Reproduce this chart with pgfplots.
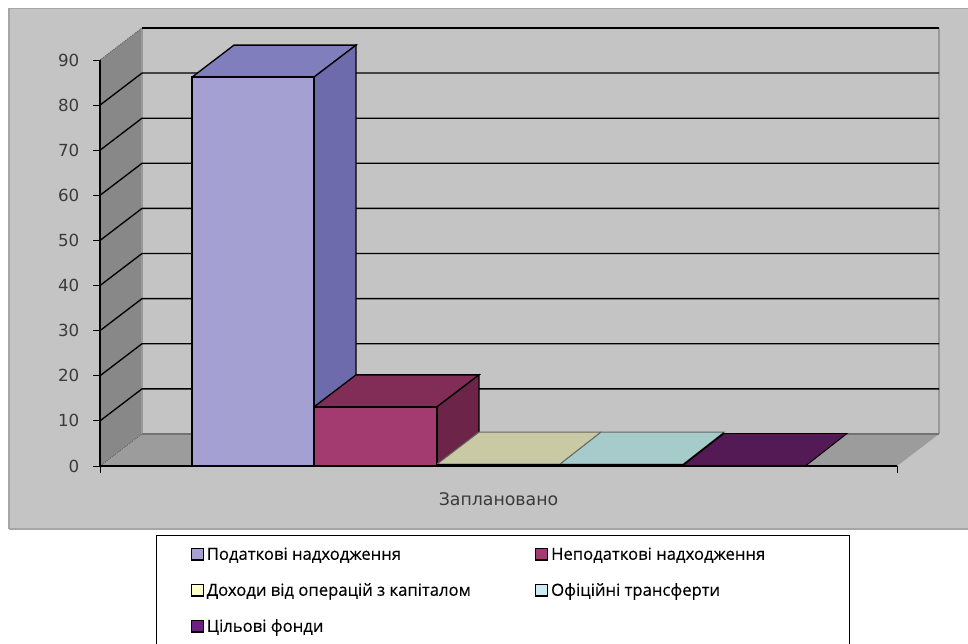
\documentclass[border=0pt]{standalone}
\usepackage{fontspec}
\setmainfont{DejaVu Sans}
\newfontfamily\legendfont[FakeBold=0.25]{Open Sans}
\usepackage{pgfplots}
\pgfplotsset{compat=1.18}
\definecolor{panel}{HTML}{C4C4C4}
\definecolor{wall}{HTML}{888888}
\definecolor{floorc}{HTML}{9C9C9C}
\definecolor{txt}{HTML}{3A3A3A}
\definecolor{aF}{HTML}{A4A0D2}\definecolor{aT}{HTML}{807EBC}\definecolor{aS}{HTML}{6D6BAB}
\definecolor{bF}{HTML}{A33A70}\definecolor{bT}{HTML}{812D57}\definecolor{bS}{HTML}{6C2449}
\definecolor{cT}{HTML}{C9C9A4}\definecolor{dT}{HTML}{A5CCCB}\definecolor{eT}{HTML}{531A55}
\definecolor{cL}{HTML}{FFFFCC}\definecolor{dL}{HTML}{CCECF4}\definecolor{eL}{HTML}{6C2080}
\begin{document}
\begin{tikzpicture}
\path[use as bounding box] (0pt,0pt) rectangle (726pt,482.25pt);
\begin{axis}[
  at={(75pt,132.75pt)}, anchor=origin,
  scale only axis, width=597.75pt, height=304.5pt,
  xmin=100, xmax=897, ymin=0, ymax=90,
  clip=false, axis on top,
  axis x line*=bottom, axis y line*=left,
  axis line style={black, line width=1pt},
  xtick={100,897}, xticklabels={,},
  ytick={0,10,...,90},
  tick style={black, line width=0.7pt},
  tick align=outside, major tick length=5pt,
  /pgf/number format/assume math mode=true,
  yticklabel style={font=\fontsize{12.5}{14}\selectfont, text=txt, xshift=-7pt},
  xlabel={Заплановано},
  xlabel style={at={(axis cs:498.5,-7.4)}, anchor=center, font=\fontsize{13}{15}\selectfont, text=txt},
  legend columns=2, legend cell align=left,
  legend image code/.code={\draw[#1] (0pt,-4pt) rectangle (9pt,4.5pt);},
  legend style={at={(axis cs:156,-15.3)}, anchor=north west, draw=black, line width=0.8pt,
    fill=white, inner xsep=25.5pt, inner ysep=7pt,
    font=\legendfont\fontsize{12.5}{14}\selectfont,
    row sep=12pt,
    /tikz/every even column/.append style={column sep=46pt}},
]
% chart area
\addplot[fill=panel, draw=black!35, line width=1pt, forget plot] coordinates {(9,-14) (975,-14) (975,101.4) (9,101.4) (9,-14)};
% side wall, floor
\addplot[fill=wall, draw=none, forget plot] coordinates {(100,0) (142,7.1) (142,97.1) (100,90) (100,0)};
\addplot[fill=floorc, draw=none, forget plot] coordinates {(100,0) (897,0) (939,7.1) (142,7.1) (100,0)};
% wall edges
\addplot[black!40, line width=1.2pt, forget plot] coordinates {(142,7.1) (142,97.1)};
\addplot[black!40, line width=1.2pt, forget plot] coordinates {(939,7.1) (939,97.1)};
\addplot[black!55, line width=0.9pt, forget plot] coordinates {(142,7.1) (939,7.1)};
\addplot[black!70, line width=0.6pt, densely dotted, forget plot] coordinates {(100,0) (142,7.1)};
\addplot[black!70, line width=0.6pt, densely dotted, forget plot] coordinates {(100,90) (142,97.1)};
% gridlines
\addplot[black, line width=1pt, forget plot] coordinates {(142,97.1) (939,97.1)};
\addplot[black, line width=1pt, forget plot] coordinates {(100,80) (142,87.1) (939,87.1)};
\addplot[black, line width=1pt, forget plot] coordinates {(100,70) (142,77.1) (939,77.1)};
\addplot[black, line width=1pt, forget plot] coordinates {(100,60) (142,67.1) (939,67.1)};
\addplot[black, line width=1pt, forget plot] coordinates {(100,50) (142,57.1) (939,57.1)};
\addplot[black, line width=1pt, forget plot] coordinates {(100,40) (142,47.1) (939,47.1)};
\addplot[black, line width=1pt, forget plot] coordinates {(100,30) (142,37.1) (939,37.1)};
\addplot[black, line width=1pt, forget plot] coordinates {(100,20) (142,27.1) (939,27.1)};
\addplot[black, line width=1pt, forget plot] coordinates {(100,10) (142,17.1) (939,17.1)};
% bar 1: 86.2
\addplot[fill=aT, draw=black, line width=1pt, forget plot] coordinates {(192,86.2) (314,86.2) (356,93.3) (234,93.3) (192,86.2)};
\addplot[fill=aS, draw=black, line width=1pt, forget plot] coordinates {(314,0) (356,7.1) (356,93.3) (314,86.2) (314,0)};
\addplot[fill=aF, draw=black, line width=1pt, forget plot] coordinates {(192,0) (314,0) (314,86.2) (192,86.2) (192,0)};
% bar 2: 13.1
\addplot[fill=bT, draw=black, line width=1pt, forget plot] coordinates {(314,13.1) (437,13.1) (479,20.2) (356,20.2) (314,13.1)};
\addplot[fill=bS, draw=black, line width=1pt, forget plot] coordinates {(437,0) (479,7.1) (479,20.2) (437,13.1) (437,0)};
\addplot[fill=bF, draw=black, line width=1pt, forget plot] coordinates {(314,0) (437,0) (437,13.1) (314,13.1) (314,0)};
% bar 3: 0.4
\addplot[fill=cT, draw=black!60, line width=0.7pt, forget plot] coordinates {(437,0.4) (560,0.4) (601,7.5) (479,7.5) (437,0.4)};
\addplot[black, line width=1.8pt, forget plot] coordinates {(437,0.2) (560,0.2)};
% bar 4: 0.4
\addplot[fill=dT, draw=black!60, line width=0.7pt, forget plot] coordinates {(560,0.4) (683,0.4) (724,7.5) (601,7.5) (560,0.4)};
\addplot[black, line width=1.8pt, forget plot] coordinates {(560,0.2) (683,0.2)};
\addplot[black, line width=1.2pt, forget plot] coordinates {(683,0.2) (724,7.3)};
% bar 5: 0.1
\addplot[fill=eT, draw=black, line width=0.7pt, forget plot] coordinates {(683,0.1) (806,0.1) (847,7.2) (724,7.2) (683,0.1)};
% legend
\addlegendimage{fill=aF, draw=black, line width=1.2pt}
\addlegendentry{Податкові надходження}
\addlegendimage{fill=bF, draw=black, line width=1.2pt}
\addlegendentry{Неподаткові надходження\hspace*{36pt}}
\addlegendimage{fill=cL, draw=black, line width=1.2pt}
\addlegendentry{Доходи від операцій з капіталом}
\addlegendimage{fill=dL, draw=black, line width=1.2pt}
\addlegendentry{Офіційні трансферти}
\addlegendimage{fill=eL, draw=black, line width=1.2pt}
\addlegendentry{Цільові фонди}
\end{axis}
\end{tikzpicture}
\end{document}
